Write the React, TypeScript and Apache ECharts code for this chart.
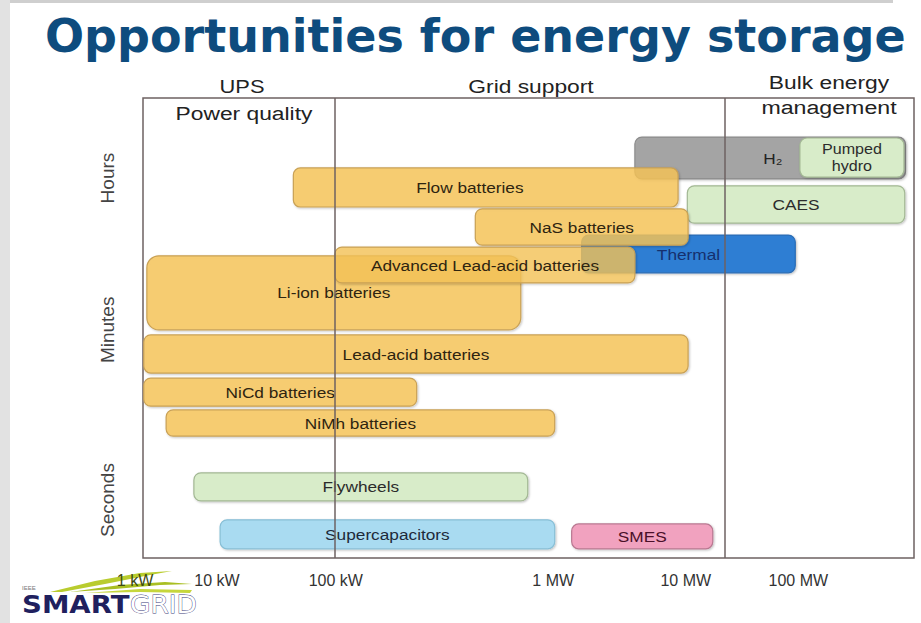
import React, { useEffect, useRef } from "react";
import * as echarts from "echarts";

// ---- data (schematic chart: x = position on the power scale 0..100, y = position on the duration scale 0..100)
const names = [
  "H₂",
  "Pumped\nhydro",
  "Flow batteries",
  "CAES",
  "Thermal",
  "NaS batteries",
  "Li-ion batteries",
  "Advanced Lead-acid batteries",
  "Lead-acid batteries",
  "NiCd batteries",
  "NiMh batteries",
  "Flywheels",
  "Supercapacitors",
  "SMES",
];
const xStart = [63.8, 85.2, 19.5, 70.6, 56.9, 43.1, 0.5, 24.9, 0.1, 0.1, 3.0, 6.6, 10.0, 55.6];
const xEnd = [98.9, 98.7, 69.4, 98.8, 84.6, 70.7, 49.0, 63.8, 70.7, 35.5, 53.4, 49.9, 53.4, 73.9];
const yLow = [82.4, 82.8, 76.3, 72.8, 62.0, 68.0, 49.6, 59.8, 40.2, 33.0, 26.5, 12.4, 2.0, 2.0];
const yHigh = [91.5, 91.3, 84.8, 80.9, 70.2, 75.9, 65.7, 67.6, 48.5, 39.1, 32.2, 18.5, 8.3, 7.4];
const kinds = [
  "hydrogen",
  "mechanical",
  "battery",
  "mechanical",
  "thermal",
  "battery",
  "battery",
  "batteryLight",
  "battery",
  "battery",
  "battery",
  "mechanical",
  "capacitor",
  "magnetic",
];
// label anchor along x where it is not centred in the box (null = centred)
const labelAt: (number | null)[] = [81.7, null, 42.4, null, null, null, null, null, null, null, null, null, null, null];

const powerTicks = [0, 9.6, 25.0, 53.2, 70.4, 85.0];
const powerTickNames = ["1 kW", "10 kW", "100 kW", "1 MW", "10 MW", "100 MW"];
const durationTicks = [12.6, 49.6, 82.6];
const durationTickNames = ["Seconds", "Minutes", "Hours"];
const regionBorders = [24.9, 75.5];

const styles: Record<string, { fill: string; stroke: string; text: string }> = {
  battery: { fill: "rgba(249,198,88,0.80)", stroke: "#c9a155", text: "#2e2410" },
  batteryLight: { fill: "rgba(249,198,88,0.76)", stroke: "#c9a155", text: "#2e2410" },
  hydrogen: { fill: "rgba(150,150,150,0.80)", stroke: "#8a8a8a", text: "#222" },
  mechanical: { fill: "#d8ecc9", stroke: "#a3b894", text: "#2b2b2b" },
  thermal: { fill: "#2e7ed3", stroke: "#2a6cb5", text: "#16306e" },
  capacitor: { fill: "#a9dbf1", stroke: "#88bfd6", text: "#1e2a3a" },
  magnetic: { fill: "#f1a2bf", stroke: "#b97891", text: "#4a1029" },
};

const FONT = "'Liberation Sans', Arial, sans-serif";

function heading(text: string, x: number, y: number, size: number, sx: number) {
  return {
    type: "text",
    x,
    y,
    scaleX: sx,
    style: { text, align: "center", verticalAlign: "middle", font: size + "px " + FONT, fill: "#222" },
  };
}

export default function App() {
  const ref = useRef<HTMLDivElement>(null);

  useEffect(() => {
    document.body.style.margin = "0";
    if (!ref.current) return;
    const chart = echarts.init(ref.current, null, { renderer: "svg" });

    const data = names.map((n, i) => [xStart[i], xEnd[i], yLow[i], yHigh[i], i]);

    const option: any = {
      animation: false,
      backgroundColor: "#ffffff",
      title: {
        text: "Opportunities for energy storage",
        left: 40,
        top: 8,
        textStyle: {
          fontFamily: "DejaVu Sans",
          fontWeight: "bold",
          fontSize: 46,
          color: "#0e4c7e",
        },
      },
      grid: {
        left: 143,
        right: 7,
        top: 98,
        bottom: 65,
        show: true,
        borderColor: "#6e6262",
        borderWidth: 1.5,
        backgroundColor: "transparent",
      },
      xAxis: {
        type: "value",
        min: 0,
        max: 100,
        axisLine: { show: false },
        axisTick: { show: false },
        splitLine: { show: false },
        axisLabel: {
          customValues: powerTicks,
          margin: 14,
          fontFamily: FONT,
          fontSize: 16,
          color: "#333",
          formatter: (v: number) => {
            const idx = powerTicks.findIndex((t) => Math.abs(t - v) < 1e-6);
            const name = idx >= 0 ? powerTickNames[idx] : "";
            return idx === 0 ? "{first|" + name + "}" : name;
          },
          rich: {
            first: {
              fontFamily: FONT,
              fontSize: 16,
              color: "#3d4a10",
              padding: [0, 16, 0, 0],
            },
          },
        },
      },
      yAxis: {
        type: "value",
        min: 0,
        max: 100,
        axisLine: { show: false },
        axisTick: { show: false },
        splitLine: { show: false },
        axisLabel: {
          customValues: durationTicks,
          rotate: 90,
          margin: 26,
          fontFamily: FONT,
          fontSize: 19,
          color: "#444",
          formatter: (v: number) => {
            const idx = durationTicks.findIndex((t) => Math.abs(t - v) < 1e-6);
            return idx >= 0 ? durationTickNames[idx] : "";
          },
        },
      },
      graphic: [
        { type: "rect", z: -10, shape: { x: 0, y: 0, width: 10, height: 623 }, style: { fill: "#e2e2e2" } },
        { type: "rect", z: -10, shape: { x: 10, y: 0, width: 883, height: 3 }, style: { fill: "#cfcfcf" } },
        // region headings
        heading("UPS", 242, 86, 19, 1.15),
        heading("Grid support", 531, 86, 19, 1.2),
        heading("Bulk energy", 829, 82, 19, 1.2),
        heading("Power quality", 244, 113, 19, 1.2),
        heading("management", 829, 107, 19, 1.22),
        // logo
        { type: "polygon", shape: { points: [[50, 592], [95, 581], [140, 573], [172, 571], [150, 575], [105, 584], [62, 592]] }, style: { fill: "#b9cc2e" } },
        { type: "polygon", shape: { points: [[70, 592], [120, 585], [165, 582], [192, 584], [160, 585], [115, 589]] }, style: { fill: "#a9bf22" } },
        { type: "polygon", shape: { points: [[85, 593], [140, 589], [192, 590], [190, 593], [140, 592]] }, style: { fill: "#c6d63c" } },
        { type: "text", style: { text: "IEEE", x: 22, y: 588, align: "left", verticalAlign: "middle", font: "6px " + FONT, fill: "#777" } },
        { type: "text", x: 22, y: 605, scaleX: 1.15, style: { text: "SMART", align: "left", verticalAlign: "middle", font: "bold 24px 'DejaVu Sans'", fill: "#20205e" } },
        { type: "text", x: 130, y: 605, scaleX: 1.1, style: { text: "GRID", align: "left", verticalAlign: "middle", font: "24px 'DejaVu Sans'", fill: "#ffffff", stroke: "#3d3d7a", lineWidth: 0.8 } },
      ],
      series: [
        {
          type: "line",
          z: 1,
          data: [],
          silent: true,
          markLine: {
            silent: true,
            symbol: "none",
            label: { show: false },
            lineStyle: { color: "#6e6262", width: 1.5, type: "solid" },
            data: regionBorders.map((x) => ({ xAxis: x })),
          },
        },
        {
          type: "custom",
          z: 2,
          clip: false,
          encode: { x: [0, 1], y: [2, 3] },
          data,
          renderItem: (params: any, api: any) => {
            const i = api.value(4);
            const p0 = api.coord([api.value(0), api.value(3)]);
            const p1 = api.coord([api.value(1), api.value(2)]);
            const w = p1[0] - p0[0];
            const h = p1[1] - p0[1];
            const s = styles[kinds[i]];
            const lx = labelAt[i] != null ? api.coord([labelAt[i], 0])[0] : p0[0] + w / 2;
            const r = h > 50 ? 12 : 7;
            const multi = names[i].indexOf("\n") >= 0;
            return {
              type: "group",
              children: [
                {
                  type: "rect",
                  shape: { x: p0[0], y: p0[1], width: w, height: h, r },
                  style: {
                    fill: s.fill,
                    stroke: s.stroke,
                    lineWidth: 1.2,
                    shadowBlur: 2,
                    shadowOffsetX: 1,
                    shadowOffsetY: 1,
                    shadowColor: "rgba(0,0,0,0.25)",
                  },
                },
                {
                  type: "text",
                  x: lx,
                  y: p0[1] + h / 2,
                  scaleX: 1.15,
                  style: {
                    text: names[i],
                    x: 0,
                    y: 0,
                    align: "center",
                    verticalAlign: "middle",
                    fontFamily: FONT,
                    fontSize: multi ? 14 : 15,
                    lineHeight: 17,
                    fill: s.text,
                  },
                },
              ],
            };
          },
        },
      ],
    };

    chart.setOption(option);
    return () => chart.dispose();
  }, []);

  return <div ref={ref} style={{ width: 921, height: 623 }} />;
}
